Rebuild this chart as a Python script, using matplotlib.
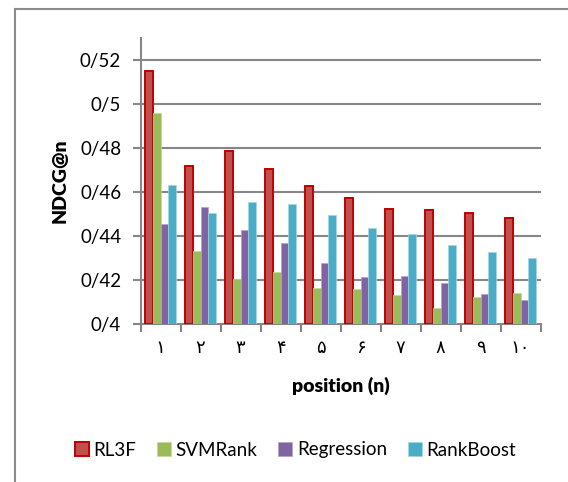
import numpy as np
import matplotlib
matplotlib.use('Agg')
import matplotlib.pyplot as plt
from matplotlib.lines import Line2D

# داده‌ها (خوانده شده از نمودار)
positions = ['۱', '۲', '۳', '۴', '۵', '۶', '۷', '۸', '۹', '۱۰']
rl3f = [0.5147, 0.4717, 0.4785, 0.4701, 0.4627, 0.4572, 0.4522, 0.4518, 0.4505, 0.4481]
svmrank = [0.4956, 0.4330, 0.4204, 0.4236, 0.4162, 0.4157, 0.4130, 0.4070, 0.4121, 0.4138]
regression = [0.4454, 0.4530, 0.4425, 0.4366, 0.4275, 0.4213, 0.4215, 0.4185, 0.4133, 0.4107]
rankboost = [0.4631, 0.4501, 0.4554, 0.4542, 0.4492, 0.4437, 0.4410, 0.4359, 0.4324, 0.4300]
yticks = [0.40, 0.42, 0.44, 0.46, 0.48, 0.50, 0.52]
ytick_labels = ['0/4', '0/42', '0/44', '0/46', '0/48', '0/5', '0/52']

FONT = ['Lato', 'DejaVu Sans']
plt.rcParams['font.family'] = FONT
GRAY = '#868686'

fig = plt.figure(figsize=(5.68, 4.82), dpi=100)
ax = fig.add_axes([0.2475, 0.3284, 0.7043, 0.5934])

x = np.arange(len(positions))
w = 0.19
ax.bar(x - 1.5 * w, np.array(rl3f) - 0.40, w, bottom=0.40, color='#C0504D',
       edgecolor='#C00000', linewidth=1.4, label='RL3F', zorder=3)
ax.bar(x - 0.5 * w, np.array(svmrank) - 0.40, w, bottom=0.40, color='#9BBB59',
       edgecolor='#C5D99A', linewidth=0.5, label='SVMRank', zorder=3)
ax.bar(x + 0.5 * w, np.array(regression) - 0.40, w, bottom=0.40, color='#8064A2',
       edgecolor='#B3A2C7', linewidth=0.5, label='Regression', zorder=3)
ax.bar(x + 1.5 * w, np.array(rankboost) - 0.40, w, bottom=0.40, color='#4BACC6',
       edgecolor='#A5D5E2', linewidth=0.5, label='RankBoost', zorder=3)

ax.set_xlim(-0.5, len(positions) - 0.5)
ax.set_ylim(0.40, 0.53)

ax.set_yticks(yticks)
ax.set_yticklabels(ytick_labels, fontsize=13.5)
ax.set_xticks(x)
ax.set_xticklabels(positions, fontsize=13)
ax.set_xticks(np.arange(-0.5, len(positions)), minor=True)
ax.tick_params(axis='x', which='major', length=0, pad=12)
ax.tick_params(axis='x', which='minor', length=6, width=1.5, color=GRAY, direction='out')
ax.tick_params(axis='y', which='major', length=6, width=1.5, color=GRAY, pad=8)

for yv in yticks[1:]:
    ax.axhline(yv, color=GRAY, linewidth=1.5, zorder=1)

for s in ['top', 'right']:
    ax.spines[s].set_visible(False)
for s in ['left', 'bottom']:
    ax.spines[s].set_color(GRAY)
    ax.spines[s].set_linewidth(1.5)

ax.set_ylabel('NDCG@n', fontsize=14, fontweight='heavy', labelpad=8)
ax.set_xlabel('position (n)', fontsize=14, fontweight='heavy', labelpad=15)

fig.legend(loc='center', bbox_to_anchor=(0.52, 1 - 450 / 482), ncol=4, frameon=False,
           fontsize=13.5, handlelength=0.75, handleheight=0.75, handletextpad=0.25,
           columnspacing=1.1)

# قاب بیرونی
bx = 14.5 / 568
by = 1 - 8.5 / 482
fig.add_artist(Line2D([bx, bx], [0, by], transform=fig.transFigure, color='#8C8C8C', linewidth=1.5))
fig.add_artist(Line2D([bx, 1], [by, by], transform=fig.transFigure, color='#8C8C8C', linewidth=1.5))

fig.savefig('out.png', dpi=100)
